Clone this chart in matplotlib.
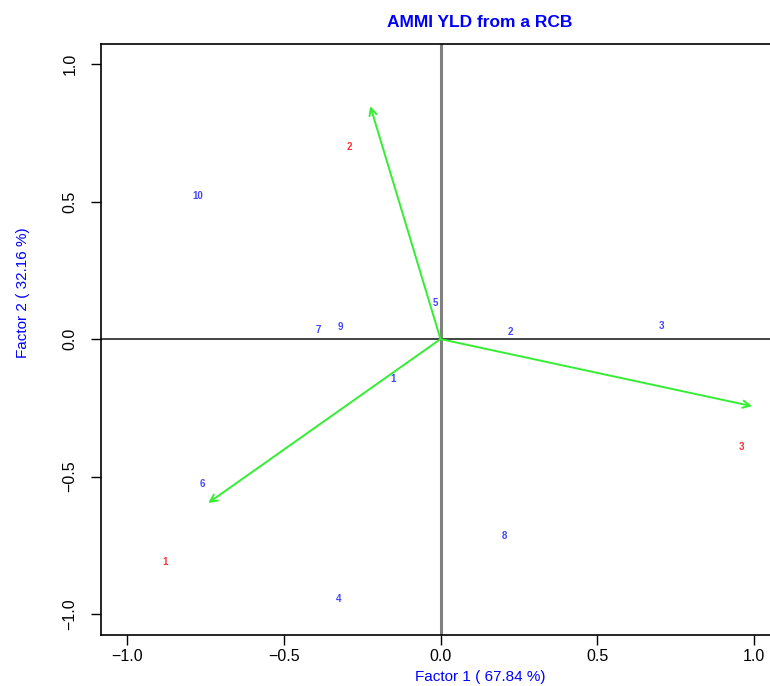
import numpy as np
import matplotlib
matplotlib.use('Agg')
import matplotlib.pyplot as plt

plt.rcParams['font.family'] = ['Liberation Sans', 'DejaVu Sans']

# genotype scores (blue labels)
gen_labels = ['1', '2', '3', '4', '5', '6', '7', '8', '9', '10']
gen_x = [-0.15, 0.224, 0.706, -0.326, -0.016, -0.76, -0.39, 0.204, -0.32, -0.773]
gen_y = [-0.145, 0.025, 0.047, -0.945, 0.131, -0.527, 0.033, -0.716, 0.044, 0.52]

# environment scores (red labels)
env_labels = ['1', '2', '3']
env_x = [-0.88, -0.29, 0.96]
env_y = [-0.81, 0.70, -0.393]

# arrow tips
arrow_x = [-0.741, -0.224, 0.994]
arrow_y = [-0.596, 0.847, -0.244]

fig = plt.figure(figsize=(7.7, 6.86), dpi=100)
W, H = 770, 686
left, right, top, bottom = 101, 859, 44, 635
ax = fig.add_axes([left / W, 1 - bottom / H, (right - left) / W, (bottom - top) / H])

ax.set_xlim(-1.083, 1.335)
ax.set_ylim(-1.076, 1.073)

ax.axvline(0, color='#808080', lw=2.2, zorder=1)
ax.axhline(0, color='#222222', lw=1.2, zorder=1)

for xe, ye in zip(arrow_x, arrow_y):
    ax.annotate('', xy=(xe, ye), xytext=(0, 0),
                arrowprops=dict(arrowstyle='->', color='#33ee33', lw=1.4,
                                mutation_scale=13, shrinkA=0, shrinkB=0))

for lab, x, y in zip(gen_labels, gen_x, gen_y):
    ax.text(x, y, lab, color='#4444ff', fontsize=7, fontweight='bold',
            ha='center', va='center')
for lab, x, y in zip(env_labels, env_x, env_y):
    ax.text(x, y, lab, color='#ff3333', fontsize=7, fontweight='bold',
            ha='center', va='center')

ax.set_xticks([-1.0, -0.5, 0.0, 0.5, 1.0])
ax.set_yticks([-1.0, -0.5, 0.0, 0.5, 1.0])
ax.set_xticklabels(['\u22121.0', '\u22120.5', '0.0', '0.5', '1.0'], fontsize=11.5)
ax.set_yticklabels(['\u22121.0', '\u22120.5', '0.0', '0.5', '1.0'], fontsize=11.5,
                   rotation=90, va='center')
ax.tick_params(axis='x', direction='out', length=7, width=1, pad=3)
ax.tick_params(axis='y', direction='out', length=7, width=1, pad=10)
for s in ax.spines.values():
    s.set_linewidth(1.2)

ax.set_title('AMMI YLD from a RCB', color='blue', fontsize=12.5,
             fontweight='bold', pad=12)
ax.set_xlabel('Factor 1 ( 67.84 %)', color='blue', fontsize=11)
ax.xaxis.set_label_coords(0.5, -0.06)
ax.set_ylabel('Factor 2 ( 32.16 %)', color='blue', fontsize=11)
ax.yaxis.set_label_coords(-0.094, 0.58)

fig.savefig('out.png', dpi=100)
